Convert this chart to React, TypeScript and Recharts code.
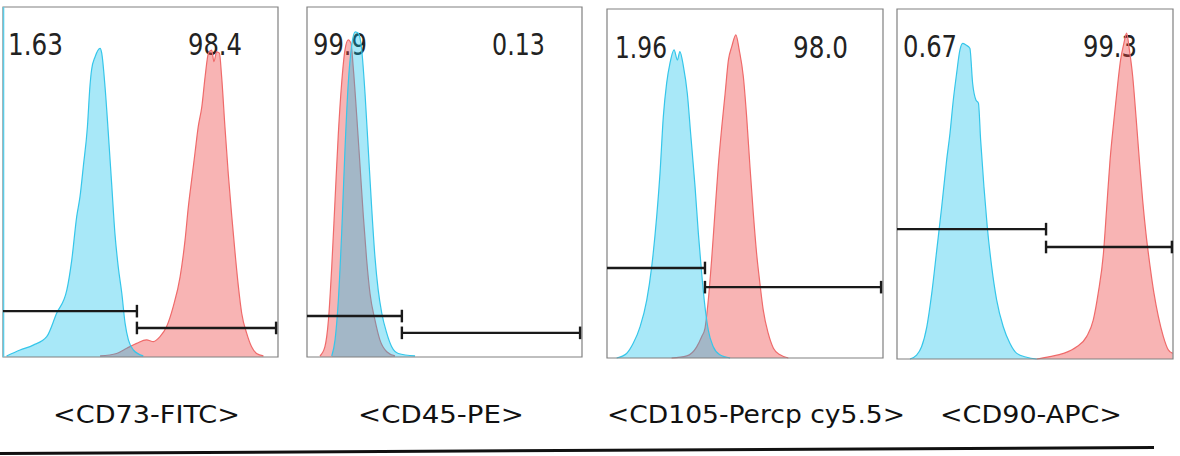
import { Area, AreaChart, ReferenceArea, ReferenceLine, XAxis, YAxis } from 'recharts'

// histogram traces, [channel %, count %]
const cd73Iso = [[1.3, 0.3], [6.2, 2.0], [11.0, 3.4], [15.9, 5.8], [19.5, 12.5], [23.2, 19.1], [25.0, 27.7], [26.8, 40.1], [28.0, 45.8], [29.2, 54.4], [30.7, 65.8], [31.6, 77.2], [32.2, 82.0], [33.5, 85.8], [35.3, 88.2], [35.9, 86.8], [37.1, 77.2], [38.3, 63.9], [39.5, 49.6], [40.7, 35.3], [41.9, 25.8], [43.2, 18.2], [44.4, 9.6], [45.6, 4.9], [47.4, 2.0], [51.0, 0.3]]
const cd73Stain = [[35.3, 0.3], [41.3, 1.0], [45.0, 2.5], [48.6, 3.9], [52.2, 4.9], [54.7, 4.4], [57.1, 5.8], [59.5, 8.7], [61.9, 14.4], [64.4, 22.9], [66.2, 33.4], [67.4, 42.9], [68.6, 50.6], [69.8, 58.2], [71.0, 65.8], [72.3, 71.5], [73.5, 80.1], [74.7, 86.8], [75.9, 87.7], [76.7, 84.4], [77.7, 87.2], [78.7, 86.8], [79.5, 80.1], [80.7, 65.8], [81.9, 52.5], [83.2, 40.1], [84.4, 29.6], [85.6, 20.1], [86.8, 12.5], [88.6, 6.8], [90.4, 2.9], [92.2, 1.0], [94.7, 0.3]]

const cd45Iso = [[9.0, 0.3], [10.2, 4.9], [11.4, 16.3], [12.6, 35.3], [13.8, 59.1], [15.0, 78.2], [16.2, 88.7], [17.5, 92.9], [18.7, 92.5], [19.9, 87.7], [21.1, 75.3], [22.3, 59.1], [23.5, 42.9], [24.7, 28.7], [25.9, 19.1], [27.2, 12.5], [29.0, 6.8], [30.8, 2.9], [33.2, 1.0], [39.3, 0.3]]
const cd45Stain = [[4.7, 0.3], [6.5, 2.9], [7.8, 10.6], [9.0, 25.8], [10.2, 44.9], [11.4, 63.9], [12.6, 78.2], [13.8, 87.7], [15.0, 90.6], [16.0, 89.6], [16.8, 82.9], [18.1, 68.7], [19.3, 54.4], [20.5, 40.1], [21.7, 27.7], [22.9, 18.2], [24.7, 10.6], [26.5, 4.9], [29.0, 1.5], [32.0, 0.3]]

const cd105Iso = [[3.5, 0], [7.1, 1.3], [9.5, 4.2], [12.0, 9.0], [14.4, 16.6], [16.2, 26.2], [18.0, 40.5], [19.2, 52.9], [20.4, 69.1], [21.6, 78.7], [22.8, 84.4], [24.3, 88.3], [25.5, 85.4], [26.4, 87.8], [27.7, 83.5], [29.1, 75.8], [30.3, 64.4], [31.9, 49.1], [33.1, 35.7], [34.3, 24.3], [35.5, 14.7], [36.7, 8.0], [38.5, 3.2], [40.9, 0.9], [44.6, 0]]
const cd105Stain = [[23.4, 0], [28.9, 0.6], [32.5, 3.2], [34.3, 6.1], [35.5, 8.5], [36.7, 16.6], [37.9, 28.1], [39.1, 41.5], [40.3, 54.8], [41.6, 66.3], [42.8, 75.8], [44.0, 85.4], [45.2, 89.2], [46.7, 92.6], [47.9, 88.3], [49.4, 80.6], [50.6, 69.1], [51.8, 54.8], [53.0, 41.5], [54.2, 30.0], [55.4, 21.4], [56.6, 13.8], [58.4, 7.1], [60.3, 2.8], [62.7, 0.9], [65.7, 0]]

const cd90Iso = [[4.7, 0], [7.1, 1.1], [8.9, 3.5], [10.8, 9.2], [12.6, 18.8], [14.4, 31.1], [16.2, 43.5], [18.0, 56.9], [19.2, 64.5], [20.4, 74.0], [21.6, 81.6], [22.8, 88.3], [23.8, 90.2], [25.0, 89.7], [26.4, 88.8], [27.4, 78.8], [28.6, 74.0], [29.5, 73.1], [30.3, 62.6], [31.5, 49.2], [32.7, 37.8], [34.3, 26.4], [36.1, 16.9], [38.5, 9.2], [40.9, 4.5], [43.4, 1.6], [47.0, 0.5], [50.6, 0]]
const cd90Stain = [[50.6, 0], [55.4, 0.7], [60.3, 1.6], [65.1, 3.5], [68.7, 6.4], [71.1, 11.1], [72.9, 18.8], [74.8, 30.2], [76.0, 43.5], [77.2, 56.9], [78.6, 68.3], [80.0, 78.8], [81.0, 85.4], [82.2, 90.2], [83.2, 93.1], [84.2, 88.3], [85.4, 80.7], [86.6, 69.2], [87.8, 56.9], [89.0, 45.4], [90.2, 35.9], [91.7, 26.4], [93.1, 18.8], [94.7, 12.1], [96.5, 6.4], [98.3, 2.6], [99.9, 1.6]]

// gate: [split, left gate height, right gate height, right end]
const cd73Gate = [48.7, 13.1, 8.3, 99.3]
const cd45Gate = [34.5, 11.7, 6.9, 99.3]
const cd105Gate = [35.5, 25.8, 20.3, 99.3]
const cd90Gate = [54.0, 37.1, 32.0, 99.6]

const cd73Pct = ['1.63', '98.4']
const cd45Pct = ['99.9', '0.13']
const cd105Pct = ['1.96', '98.0']
const cd90Pct = ['0.67', '99.3']

const markers = ['<CD73-FITC>', '<CD45-PE>', '<CD105-Percp cy5.5>', '<CD90-APC>']

const H = 456
const PAD = 40

const panels = [
  { iso: cd73Iso, stain: cd73Stain, gate: cd73Gate, pct: cd73Pct, box: [3, 7, 278, 357], nums: [[8, 55, 55], [188, 55, 54]], lab: [53, 187], pile: true },
  { iso: cd45Iso, stain: cd45Stain, gate: cd45Gate, pct: cd45Pct, box: [307, 7, 582, 357], nums: [[313, 55, 54], [492, 55, 53]], lab: [358, 166] },
  { iso: cd105Iso, stain: cd105Stain, gate: cd105Gate, pct: cd105Pct, box: [607, 9, 883, 358], nums: [[615, 58, 52], [793, 58, 55]], lab: [607, 298] },
  { iso: cd90Iso, stain: cd90Stain, gate: cd90Gate, pct: cd90Pct, box: [897, 9, 1173, 359], nums: [[903, 57, 54], [1083, 57, 54]], lab: [940, 182] },
]

const toPts = (arr: number[][]) => arr.map(([x, y]) => ({ x, y }))

function Panel({ p, i }: { p: any; i: number }) {
  const [bl, bt, br, bb] = p.box
  const left = bl - PAD
  const w = br - bl + PAD * 2
  const [split, ly, ry, end] = p.gate
  const t = 1.8
  const gateProps = { stroke: '#1a1a1a', strokeWidth: 2.4, ifOverflow: 'visible' as const }
  return (
    <div style={{ position: 'absolute', left, top: 0 }}>
      <AreaChart width={w} height={H} margin={{ top: bt, bottom: H - bb, left: PAD, right: PAD }}>
        <XAxis type="number" dataKey="x" domain={[0, 100]} hide allowDuplicatedCategory={false} />
        <YAxis type="number" domain={[0, 100]} hide />
        <Area
          data={toPts(p.stain)}
          dataKey="y"
          type="monotone"
          stroke="#ef6a6a"
          strokeWidth={1.2}
          fill="rgb(237,67,67)"
          fillOpacity={0.4}
          isAnimationActive={false}
        />
        <Area
          data={toPts(p.iso)}
          dataKey="y"
          type="monotone"
          stroke="#35c6ea"
          strokeWidth={1.2}
          fill="rgb(6,189,235)"
          fillOpacity={0.35}
          isAnimationActive={false}
        />
        <ReferenceArea x1={0} x2={100} y1={0} y2={100} fill="none" stroke="#808080" strokeWidth={1.2} ifOverflow="visible" />
        {p.pile && <ReferenceLine x={0.2} stroke="#5ccbe6" strokeWidth={1.5} />}
        <ReferenceLine segment={[{ x: 0, y: ly }, { x: split, y: ly }]} {...gateProps} />
        <ReferenceLine segment={[{ x: split, y: ly - t }, { x: split, y: ly + t }]} {...gateProps} />
        <ReferenceLine segment={[{ x: split, y: ry }, { x: end, y: ry }]} {...gateProps} />
        <ReferenceLine segment={[{ x: split, y: ry - t }, { x: split, y: ry + t }]} {...gateProps} />
        <ReferenceLine segment={[{ x: end, y: ry - t }, { x: end, y: ry + t }]} {...gateProps} />
        <g fontFamily="'DejaVu Sans', Verdana, sans-serif" fill="#222">
          {p.nums.map((n: number[], k: number) => (
            <text key={k} x={n[0] - left} y={n[1]} fontSize={30} textLength={n[2]} lengthAdjust="spacingAndGlyphs">
              {p.pct[k]}
            </text>
          ))}
          <text x={p.lab[0] - left} y={423} fontSize={25} textLength={p.lab[1]} lengthAdjust="spacingAndGlyphs" fill="#111">
            {markers[i]}
          </text>
        </g>
      </AreaChart>
    </div>
  )
}

export default function App() {
  return (
    <div style={{ position: 'absolute', left: 0, top: 0, width: 1180, height: H, background: '#fff', overflow: 'hidden' }}>
      {panels.map((p, i) => (
        <Panel key={i} p={p} i={i} />
      ))}
      <svg width={1180} height={H} style={{ position: 'absolute', left: 0, top: 0, pointerEvents: 'none' }}>
        <line x1={0} y1={453.5} x2={1154} y2={447.5} stroke="#111" strokeWidth={3} />
      </svg>
    </div>
  )
}
